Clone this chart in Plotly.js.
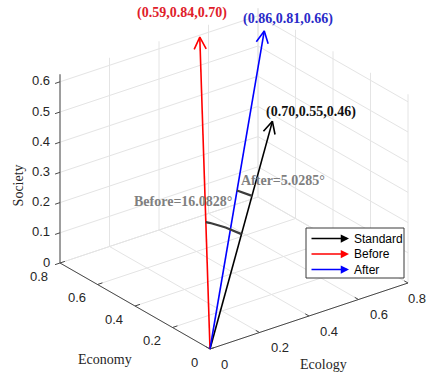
<!DOCTYPE html>
<html><head><meta charset="utf-8">
<script src="https://cdn.plot.ly/plotly-3.0.1.min.js"></script>
<style>html,body{margin:0;padding:0;background:#fff;}#chart{width:429px;height:372px;}</style>
</head><body><div id="chart"></div>
<script>
// ---- data ----
const vectorNames = ['Standard', 'Before', 'After'];
const ecology = [0.70, 0.59, 0.86];
const economy = [0.55, 0.84, 0.81];
const society = [0.46, 0.70, 0.66];
const vectorLabels = ['(0.70,0.55,0.46)', '(0.59,0.84,0.70)', '(0.86,0.81,0.66)'];
const angleLabels = ['Before=16.0828°', 'After=5.0285°'];
const anglePairs = [[0, 1], [0, 2]];
const ecologyTicks = [0, 0.2, 0.4, 0.6, 0.8];
const economyTicks = [0, 0.2, 0.4, 0.6, 0.8];
const societyTicks = [0, 0.1, 0.2, 0.3, 0.4, 0.5, 0.6];
const axisTitles = {ecology: 'Ecology', economy: 'Economy', society: 'Society'};

// ---- view / style (orthographic 3-D view projected onto a pixel-scaled 2-D axis) ----
const W = 429, H = 372;
const view = {ox: 210, oy: 349, ex: 247.5, ey: -82.5, cx: -187.5, cy: -107.5, sz: -302};
const lim = {e: 0.8, c: 0.8, s: 0.625};
const colors = ['#000000', '#ff0000', '#0000ff'];
const labelColors = ['#111111', '#e0202a', '#2a2ac8'];
const autoScale = 0.89;          // quiver3 auto scale factor
const arcRadius = [0.45, 0.60];
const serif = 'Liberation Serif, Times New Roman, serif';
const sans = 'Liberation Sans, Arial, sans-serif';

function P(e, c, s) {
  return [view.ox + e * view.ex + c * view.cx, view.oy + e * view.ey + c * view.cy + s * view.sz];
}
function seg(arrX, arrY, a, b) {
  const p = P(a[0], a[1], a[2]), q = P(b[0], b[1], b[2]);
  arrX.push(p[0], q[0], null); arrY.push(p[1], q[1], null);
}

const traces = [];
// grid on the three back planes
const gx = [], gy = [];
ecologyTicks.forEach(t => { seg(gx, gy, [t, 0, 0], [t, lim.c, 0]); seg(gx, gy, [t, lim.c, 0], [t, lim.c, lim.s]); });
economyTicks.forEach(t => { seg(gx, gy, [0, t, 0], [lim.e, t, 0]); seg(gx, gy, [lim.e, t, 0], [lim.e, t, lim.s]); });
societyTicks.forEach(t => { seg(gx, gy, [0, lim.c, t], [lim.e, lim.c, t]); seg(gx, gy, [lim.e, 0, t], [lim.e, lim.c, t]); });
traces.push({type: 'scatter', mode: 'lines', x: gx, y: gy, line: {color: '#e4e4e4', width: 1}, hoverinfo: 'skip', showlegend: false});

// axis lines + ticks
const ax = [], ay = [];
seg(ax, ay, [0, 0, 0], [lim.e, 0, 0]);
seg(ax, ay, [0, 0, 0], [0, lim.c, 0]);
seg(ax, ay, [0, lim.c, 0], [0, lim.c, lim.s]);
const tl = 0.02;
ecologyTicks.forEach(t => seg(ax, ay, [t, 0, 0], [t, tl, 0]));
economyTicks.forEach(t => seg(ax, ay, [0, t, 0], [tl, t, 0]));
societyTicks.forEach(t => seg(ax, ay, [0, lim.c, t], [-tl, lim.c, t]));
traces.push({type: 'scatter', mode: 'lines', x: ax, y: ay, line: {color: '#4a4a4a', width: 1}, hoverinfo: 'skip', showlegend: false});

// vectors (quiver3 style arrows)
const tips = [];
for (let i = 0; i < vectorNames.length; i++) {
  const o = P(0, 0, 0);
  const t = P(ecology[i] * autoScale, economy[i] * autoScale, society[i] * autoScale);
  tips.push(t);
  const dx = t[0] - o[0], dy = t[1] - o[1], L = Math.hypot(dx, dy);
  const ux = dx / L, uy = dy / L, hl = 12, hw = 6;
  const bx = t[0] - ux * hl, by = t[1] - uy * hl;
  traces.push({
    type: 'scatter', mode: 'lines', name: vectorNames[i],
    x: [o[0], t[0], null, bx - uy * hw, t[0], bx + uy * hw],
    y: [o[1], t[1], null, by + ux * hw, t[1], by - ux * hw],
    line: {color: colors[i], width: 1.6}, hoverinfo: 'skip', showlegend: false
  });
}
// angle arcs
const arcMids = [];
anglePairs.forEach((pr, k) => {
  const n0 = Math.hypot(ecology[pr[0]], economy[pr[0]], society[pr[0]]);
  const n1 = Math.hypot(ecology[pr[1]], economy[pr[1]], society[pr[1]]);
  const a = [ecology[pr[0]] / n0, economy[pr[0]] / n0, society[pr[0]] / n0];
  const b = [ecology[pr[1]] / n1, economy[pr[1]] / n1, society[pr[1]] / n1];
  const om = Math.acos(a[0] * b[0] + a[1] * b[1] + a[2] * b[2]);
  const xs = [], ys = [];
  for (let j = 0; j <= 20; j++) {
    const t = j / 20;
    const s1 = Math.sin((1 - t) * om) / Math.sin(om), s2 = Math.sin(t * om) / Math.sin(om);
    const p = P((a[0] * s1 + b[0] * s2) * arcRadius[k], (a[1] * s1 + b[1] * s2) * arcRadius[k], (a[2] * s1 + b[2] * s2) * arcRadius[k]);
    xs.push(p[0]); ys.push(p[1]);
    if (j === 10) arcMids.push(p);
  }
  traces.push({type: 'scatter', mode: 'lines', x: xs, y: ys, line: {color: '#3c3c3c', width: 2.2}, hoverinfo: 'skip', showlegend: false});
});

// ---- annotations ----
const annotations = [];
const tickFont = {family: sans, size: 13, color: '#262626'};
ecologyTicks.forEach(t => {
  const p = P(t, 0, 0);
  // keep the last label inside the picture
  const right = p[0] + 9 + 20 > W;
  annotations.push({x: right ? W - 1 : p[0] + 9, y: p[1] + 15, text: String(t), showarrow: false,
    xanchor: right ? 'right' : 'left', yanchor: 'middle', font: tickFont});
});
economyTicks.forEach(t => {
  const p = P(0, t, 0);
  annotations.push({x: p[0] - 10, y: p[1] + 13, text: String(t), showarrow: false, xanchor: 'right', yanchor: 'middle', font: tickFont});
});
societyTicks.forEach(t => {
  const p = P(0, lim.c, t);
  annotations.push({x: p[0] - 8, y: p[1] - 1, text: String(t), showarrow: false, xanchor: 'right', yanchor: 'middle', font: tickFont});
});
const titleFont = {family: serif, size: 14, color: '#262626'};
let m = P(lim.e / 2, 0, 0);
annotations.push({x: m[0] + 14, y: m[1] + 48, text: axisTitles.ecology, showarrow: false, font: titleFont});
m = P(0, lim.c / 2, 0);
annotations.push({x: m[0] - 30, y: m[1] + 53, text: axisTitles.economy, showarrow: false, font: titleFont});
m = P(0, lim.c, 0.3);
annotations.push({x: m[0] - 42, y: m[1] + 13, text: axisTitles.society, showarrow: false, textangle: -90, font: titleFont});

const labelShift = [[39, -9], [-18, -24], [24, -12]];
for (let i = 0; i < vectorNames.length; i++) {
  annotations.push({x: tips[i][0] + labelShift[i][0], y: tips[i][1] + labelShift[i][1],
    text: '<b>' + vectorLabels[i] + '</b>', showarrow: false,
    font: {family: serif, size: 14, color: labelColors[i]}});
}
const angShift = [[-41, -25], [38, -13]];
arcMids.forEach((p, k) => {
  annotations.push({x: p[0] + angShift[k][0], y: p[1] + angShift[k][1],
    text: '<b>' + angleLabels[k] + '</b>', showarrow: false,
    font: {family: serif, size: 14, color: '#7f7f7f'}});
});

// legend (arrow glyphs)
const leg = {x0: 306, y0: 228, x1: 404, y1: 278, rowY: [238.5, 254, 269.5]};
for (let i = 0; i < vectorNames.length; i++) {
  annotations.push({x: 349, y: leg.rowY[i], ax: 310, ay: leg.rowY[i], axref: 'x', ayref: 'y',
    xref: 'x', yref: 'y', text: '', showarrow: true, arrowhead: 2, arrowsize: 1.1, arrowwidth: 1.5,
    arrowcolor: colors[i], standoff: 0, startstandoff: 0});
  annotations.push({x: 352, y: leg.rowY[i], text: vectorNames[i], showarrow: false, xanchor: 'left', yanchor: 'middle',
    font: {family: sans, size: 12, color: '#000'}});
}

const layout = {
  width: W, height: H,
  margin: {l: 0, r: 0, t: 0, b: 0},
  paper_bgcolor: '#ffffff', plot_bgcolor: '#ffffff',
  showlegend: false,
  xaxis: {range: [0, W], visible: false, fixedrange: true},
  yaxis: {range: [H, 0], visible: false, fixedrange: true},
  shapes: [{type: 'rect', xref: 'x', yref: 'y', x0: leg.x0, y0: leg.y0, x1: leg.x1, y1: leg.y1,
    line: {color: '#3a3a3a', width: 1}, fillcolor: '#ffffff', layer: 'above'}],
  annotations: annotations
};
Plotly.newPlot('chart', traces, layout, {displayModeBar: false, staticPlot: true});
</script>
</body></html>
